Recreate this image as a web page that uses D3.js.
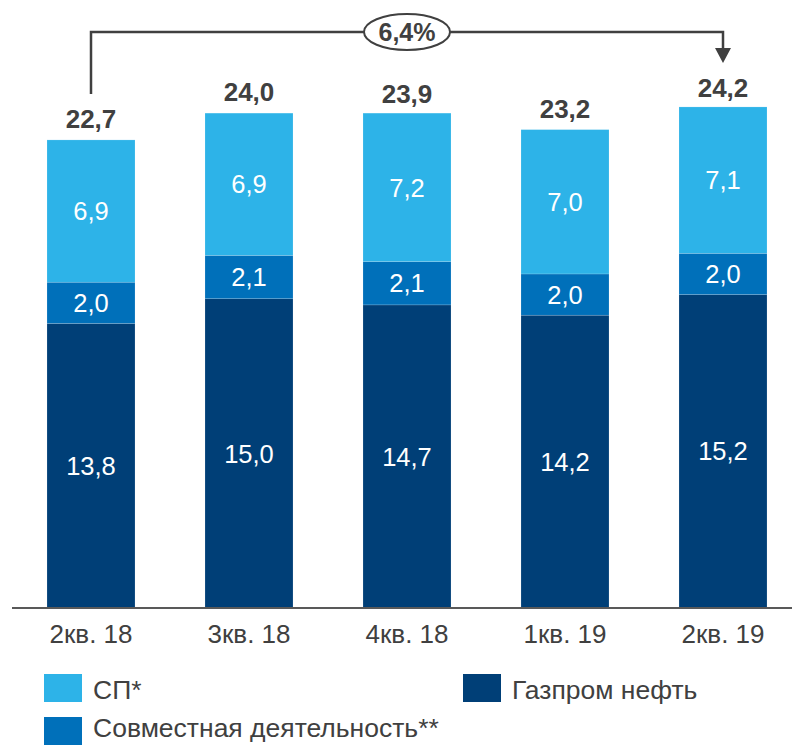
<!DOCTYPE html>
<html><head><meta charset="utf-8">
<script src="https://cdn.jsdelivr.net/npm/d3@7"></script>
<style>body{margin:0;background:#fff}svg{display:block;font-family:"Liberation Sans",Arial,sans-serif}</style>
</head><body><svg id="c" width="792" height="745"></svg>
<script>
const categories = ["2кв. 18","3кв. 18","4кв. 18","1кв. 19","2кв. 19"];
const gazprom = [13.8,15.0,14.7,14.2,15.2];
const joint = [2.0,2.1,2.1,2.0,2.0];
const sp = [6.9,6.9,7.2,7.0,7.1];
const totals = [22.7,24.0,23.9,23.2,24.2];
const growthLabel = "6,4%";
const seriesNames = ["Газпром нефть","Совместная деятельность**","СП*"];
const colors = ["#003F77","#0070BA","#2DB3E8"];

const svg = d3.select("#c");
const x = d3.scaleBand().domain(categories).range([12,802]).paddingInner(0.443).paddingOuter(0.2215);
const y = d3.scaleLinear().domain([0,25]).range([608,608-25*20.62]);

const rows = categories.map((c,i)=>({cat:c, g:gazprom[i], j:joint[i], s:sp[i], total:totals[i]}));
const stack = d3.stack().keys(["g","j","s"])(rows);

const layers = svg.selectAll("g.layer").data(stack).join("g").attr("fill",(d,i)=>colors[i]);
layers.selectAll("rect").data(d=>d).join("rect")
  .attr("x",d=>x(d.data.cat)).attr("width",x.bandwidth())
  .attr("y",d=>y(d[1])).attr("height",d=>y(d[0])-y(d[1]))
  .attr("stroke","rgba(255,255,255,0.25)").attr("stroke-width",0.6);

layers.selectAll("text").data(d=>d).join("text")
  .attr("x",d=>x(d.data.cat)+x.bandwidth()/2)
  .attr("y",d=>(y(d[0])+y(d[1]))/2)
  .attr("dy","0.36em").attr("text-anchor","middle")
  .attr("fill","#fff").attr("font-size",25.5)
  .text(d=>d3.format(".1f")(d[1]-d[0]).replace(".",","));

svg.selectAll("text.total").data(rows).join("text").attr("class","total")
  .attr("x",d=>x(d.cat)+x.bandwidth()/2).attr("y",d=>y(d.total)-12)
  .attr("text-anchor","middle").attr("fill","#404040").attr("font-weight","bold").attr("font-size",26)
  .text(d=>d3.format(".1f")(d.total).replace(".",","));

// axis
const axis = svg.append("g").attr("transform",`translate(0,${y(0)})`).call(d3.axisBottom(x).tickSize(0).tickPadding(17));
axis.select(".domain").attr("d","M12,0H792").attr("stroke","#595959").attr("stroke-width",2);
axis.selectAll("text").attr("font-size",26).attr("fill","#404040").attr("font-family","Liberation Sans, Arial, sans-serif");

// growth bracket
const x0 = x(categories[0])+x.bandwidth()/2, x1 = x(categories[4])+x.bandwidth()/2;
const by = 32;
svg.append("path").attr("d",`M${x0},${y(totals[0])-46}V${by}H${x1}V50`)
  .attr("fill","none").attr("stroke","#404040").attr("stroke-width",2.5);
svg.append("path").attr("d",`M${x1-8},48L${x1+8},48L${x1},63Z`).attr("fill","#404040");
const cx = (x0+x1)/2;
svg.append("ellipse").attr("cx",cx).attr("cy",by).attr("rx",43).attr("ry",18)
  .attr("fill","#fff").attr("stroke","#404040").attr("stroke-width",2);
svg.append("text").attr("x",cx).attr("y",by).attr("dy","0.36em").attr("text-anchor","middle")
  .attr("fill","#404040").attr("font-weight","bold").attr("font-size",25).text(growthLabel);

// legend
const legend = [
  {name:seriesNames[2], color:colors[2], lx:44, ly:674, ty:15.5},
  {name:seriesNames[1], color:colors[1], lx:44, ly:717, ty:10.5},
  {name:seriesNames[0], color:colors[0], lx:463, ly:674, ty:15.5}
];
const lg = svg.selectAll("g.lg").data(legend).join("g").attr("transform",d=>`translate(${d.lx},${d.ly})`);
lg.append("rect").attr("width",38).attr("height",28).attr("fill",d=>d.color);
lg.append("text").attr("x",49).attr("y",d=>d.ty).attr("dy","0.36em").attr("font-size",26.5).attr("fill","#404040").text(d=>d.name);
</script></body></html>
